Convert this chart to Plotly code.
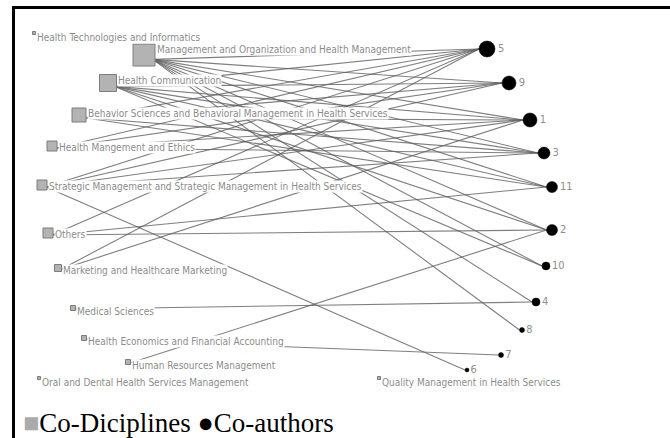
import plotly.graph_objects as go

# ---- data -------------------------------------------------------------
disc_names = [
    "Health Technologies and Informatics",
    "Management and Organization and Health Management",
    "Health Communication",
    "Behavior Sciences and Behavioral Management in Health Services",
    "Health Mangement and Ethics",
    "Strategic Management and Strategic Management in Health Services",
    "Others",
    "Marketing and Healthcare Marketing",
    "Medical Sciences",
    "Health Economics and Financial Accounting",
    "Human Resources Management",
    "Oral and Dental Health Services Management",
    "Quality Management in Health Services",
]
disc_x = [34, 144, 108, 79, 52, 42, 48, 58, 73, 84, 128, 39, 379]
disc_y = [33, 55, 83, 115, 146, 185, 233, 268, 308, 338, 362, 378, 378]
disc_size = [3, 22, 17, 14, 10, 10, 10, 7, 5, 5, 5, 3, 3]

auth_names = ["5", "9", "1", "3", "11", "2", "10", "4", "8", "7", "6"]
auth_x = [487, 509, 530, 544, 552, 552, 546, 536, 522, 501, 467]
auth_y = [49, 83, 120, 153, 187, 230, 266, 302, 330, 355, 370]
auth_size = [16, 14, 14, 12, 11, 11, 8, 8, 5, 5, 4]

edges = [
    ("Management and Organization and Health Management", ["5", "9", "1", "3", "11", "2", "10", "4", "8"]),
    ("Health Communication", ["5", "9", "1", "3", "11", "2", "10"]),
    ("Behavior Sciences and Behavioral Management in Health Services", ["5", "9", "1", "3", "11"]),
    ("Health Mangement and Ethics", ["5", "9", "1", "3"]),
    ("Strategic Management and Strategic Management in Health Services", ["5", "9", "1", "3", "6"]),
    ("Others", ["5", "11", "2"]),
    ("Marketing and Healthcare Marketing", ["5", "1"]),
    ("Medical Sciences", ["4"]),
    ("Health Economics and Financial Accounting", ["7"]),
    ("Human Resources Management", ["2"]),
]

legend_text = "<span style='color:#aaaaaa'>■</span>Co-Diciplines ●Co-authors"

# ---- figure -----------------------------------------------------------
W, H = 670, 438
di = {n: i for i, n in enumerate(disc_names)}
ai = {n: i for i, n in enumerate(auth_names)}

ex, ey = [], []
for d, targets in edges:
    i = di[d]
    for a in targets:
        j = ai[a]
        ex += [disc_x[i] + disc_size[i] * 0.4, auth_x[j] - auth_size[j] / 2, None]
        ey += [disc_y[i] + disc_size[i] * 0.2, auth_y[j], None]

fig = go.Figure()
fig.add_trace(go.Scatter(x=ex, y=ey, mode="lines",
                         line=dict(color="rgba(95,95,95,0.8)", width=1.1),
                         hoverinfo="skip"))
fig.add_trace(go.Scatter(x=disc_x, y=disc_y, mode="markers",
                         marker=dict(symbol="square", size=disc_size, color="#b3b3b3",
                                     opacity=1, line=dict(color="#7c7c7c", width=1)),
                         hoverinfo="skip"))
fig.add_trace(go.Scatter(x=auth_x, y=auth_y, mode="markers+text",
                         text=auth_names, textposition="middle right",
                         textfont=dict(family="DejaVu Sans Condensed", size=11, color="#8f8f8f"),
                         marker=dict(symbol="circle", size=auth_size, color="#000000", opacity=1,
                                     line=dict(color="#000000", width=0.5)),
                         hoverinfo="skip"))

for i, n in enumerate(disc_names):
    fig.add_annotation(x=disc_x[i] + disc_size[i] / 2 + 0.5,
                       y=disc_y[i] - disc_size[i] * 0.55,
                       xref="x", yref="y", xanchor="left", yanchor="top",
                       text=n, showarrow=False, bgcolor="white", borderpad=0,
                       font=dict(family="DejaVu Sans Condensed", size=10, color="#8c8c8c"))

fig.add_annotation(x=21, y=423, xref="x", yref="y", xanchor="left", yanchor="middle",
                   text=legend_text, showarrow=False,
                   font=dict(family="Liberation Serif", size=27, color="black"))

# frame lines (top and left)
fig.add_shape(type="line", x0=12, x1=W, y0=7.5, y1=7.5, xref="x", yref="y",
              line=dict(color="black", width=3))
fig.add_shape(type="line", x0=13.5, x1=13.5, y0=6, y1=H, xref="x", yref="y",
              line=dict(color="black", width=3))

fig.update_layout(width=W, height=H, margin=dict(l=0, r=0, t=0, b=0),
                  paper_bgcolor="white", plot_bgcolor="white", showlegend=False,
                  xaxis=dict(range=[0, W], visible=False, fixedrange=True),
                  yaxis=dict(range=[H, 0], visible=False, fixedrange=True))

fig.write_html("out.html", config={"displayModeBar": False},
               post_script="document.body.style.margin='0';document.body.style.overflow='hidden';")
